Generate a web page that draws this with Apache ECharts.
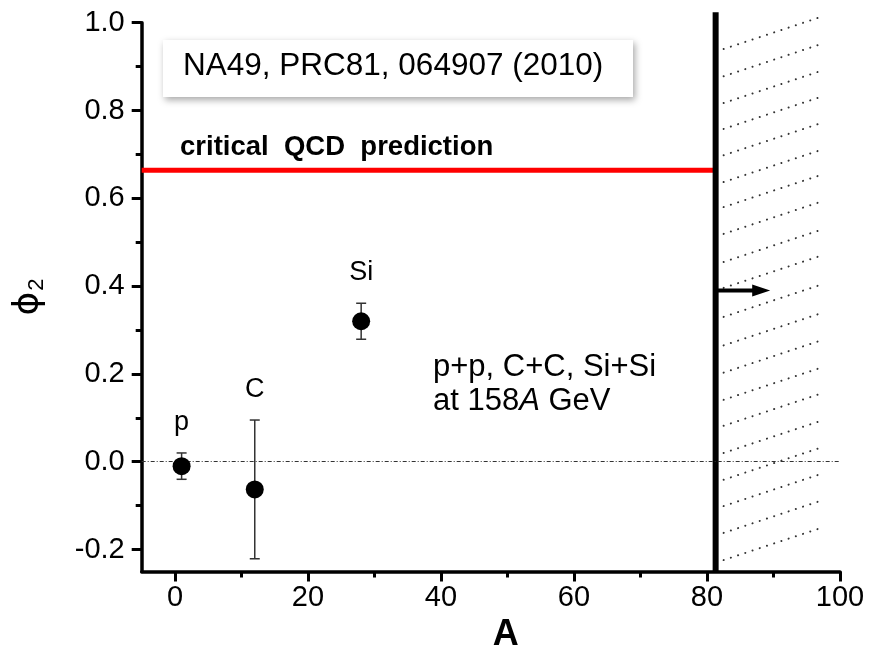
<!DOCTYPE html>
<html>
<head>
<meta charset="utf-8">
<script src="https://cdn.jsdelivr.net/npm/echarts@6/dist/echarts.min.js"></script>
<style>html,body{margin:0;padding:0;background:#fff}#c{width:875px;height:647px}</style>
</head>
<body>
<div id="c"></div>
<script>
// ---- data ----
const xRange = [-5, 100];
const yRange = [-0.25, 1.0];
const xTickValues = [0, 20, 40, 60, 80, 100];
const xMinorTickValues = [10, 30, 50, 70, 90];
const yTickValues = [-0.2, 0.0, 0.2, 0.4, 0.6, 0.8, 1.0];
const yMinorTickValues = [-0.1, 0.1, 0.3, 0.5, 0.7, 0.9];

const systems = ['p', 'C', 'Si'];
const massA = [1, 12, 28];
const phi2 = [-0.01, -0.063, 0.32];
const phi2Err = [0.03, 0.158, 0.041];

const criticalQCD = 0.664;
const boundaryA = 81.3;
const boundaryTop = 1.024;
const arrowY = 0.39;
const arrowEndA = 89.5;
const hatchStartY = [0.940, 0.878, 0.817, 0.758, 0.698, 0.637, 0.580, 0.519, 0.455, 0.396,
                     0.330, 0.265, 0.203, 0.141, 0.082, 0.020, -0.041, -0.101, -0.162, -0.224];
const hatchA = [82.5, 97.5];
const hatchRise = 0.075;

const FONT = "'Liberation Sans', Arial, Helvetica, sans-serif";

const chart = echarts.init(document.getElementById('c'), null, {renderer: 'canvas'});

const pointData = massA.map((a, i) => [a, phi2[i]]);
const errData = massA.map((a, i) => [a, phi2[i], phi2Err[i], systems[i]]);

const baseX = {
  type: 'value', min: xRange[0], max: xRange[1], position: 'bottom',
  splitLine: {show: false}
};
const baseY = {
  type: 'value', min: yRange[0], max: yRange[1], position: 'left',
  splitLine: {show: false}
};

const option = {
  animation: false,
  backgroundColor: '#fff',
  grid: {left: 141.7, right: 35, top: 22.7, bottom: 75.5, containLabel: false, outerBoundsMode: 'none'},
  xAxis: [
    Object.assign({}, baseX, {
      axisLine: {show: true, onZero: false, lineStyle: {color: '#000', width: 3.5}},
      axisTick: {show: true, inside: false, length: 10, lineStyle: {color: '#000', width: 3}, customValues: xTickValues},
      axisLabel: {show: true, margin: 12, color: '#000', fontSize: 29, fontFamily: FONT, customValues: xTickValues},
      name: 'A', nameLocation: 'middle', nameGap: 40,
      nameTextStyle: {color: '#000', fontSize: 36, fontWeight: 'bold', fontFamily: FONT, padding: [0, 0, 0, 30]}
    }),
    Object.assign({}, baseX, {
      axisLine: {show: false, onZero: false},
      axisTick: {show: true, inside: false, length: 6, lineStyle: {color: '#000', width: 3}, customValues: xMinorTickValues},
      axisLabel: {show: false}
    })
  ],
  yAxis: [
    Object.assign({}, baseY, {
      axisLine: {show: true, onZero: false, lineStyle: {color: '#000', width: 3.5}},
      axisTick: {show: true, inside: false, length: 10, lineStyle: {color: '#000', width: 3}, customValues: yTickValues},
      axisLabel: {show: true, margin: 17, color: '#000', fontSize: 29, fontFamily: FONT, customValues: yTickValues,
        formatter: v => v.toFixed(1)},
      name: '{a|ϕ}{s|2}', nameLocation: 'middle', nameGap: 94, nameRotate: 90,
      nameTextStyle: {color: '#000', fontFamily: FONT,
        rich: {a: {fontSize: 36, fontFamily: 'DejaVu Sans', color: '#000'},
               s: {fontSize: 22, fontFamily: FONT, color: '#000', padding: [16, 0, 0, 1]}}}
    }),
    Object.assign({}, baseY, {
      axisLine: {show: false, onZero: false},
      axisTick: {show: true, inside: false, length: 6, lineStyle: {color: '#000', width: 3}, customValues: yMinorTickValues},
      axisLabel: {show: false}
    })
  ],
  series: [
    // zero reference line
    {
      type: 'line', data: [], silent: true,
      markLine: {
        silent: true, symbol: ['none', 'none'], label: {show: false},
        lineStyle: {color: '#333', width: 1, type: [4, 2, 1, 2]},
        data: [{yAxis: 0}]
      }
    },
    // hatch (excluded region)
    {
      type: 'custom', clip: false, silent: true, z: 1,
      data: hatchStartY.map(y => [y]),
      renderItem: function (params, api) {
        const y0 = api.value(0);
        const p1 = api.coord([hatchA[0], y0]);
        const p2 = api.coord([hatchA[1], y0 + hatchRise]);
        return {
          type: 'line',
          shape: {x1: p1[0], y1: p1[1], x2: p2[0], y2: p2[1]},
          style: {stroke: '#333', lineWidth: 2, lineDash: [0.1, 7.5], lineCap: 'round'}
        };
      }
    },
    // critical QCD prediction line
    {
      type: 'line', silent: true, symbol: 'none', z: 3,
      data: [[xRange[0], criticalQCD], [boundaryA, criticalQCD]],
      lineStyle: {color: '#ff0000', width: 5}
    },
    // boundary vertical line
    {
      type: 'line', silent: true, symbol: 'none', clip: false, z: 4,
      data: [[boundaryA, yRange[0]], [boundaryA, boundaryTop]],
      lineStyle: {color: '#000', width: 6}
    },
    // arrow
    {
      type: 'custom', clip: false, silent: true, z: 5,
      data: [[boundaryA, arrowEndA, arrowY]],
      renderItem: function (params, api) {
        const s = api.coord([api.value(0), api.value(2)]);
        const e = api.coord([api.value(1), api.value(2)]);
        const headL = 18, headH = 6;
        return {
          type: 'group',
          children: [
            {type: 'line', shape: {x1: s[0], y1: s[1], x2: e[0] - headL + 2, y2: e[1]},
             style: {stroke: '#000', lineWidth: 4}},
            {type: 'polygon', shape: {points: [[e[0], e[1]], [e[0] - headL, e[1] - headH], [e[0] - headL, e[1] + headH]]},
             style: {fill: '#000'}}
          ]
        };
      }
    },
    // error bars + labels
    {
      type: 'custom', silent: true, z: 6,
      data: errData,
      renderItem: function (params, api) {
        const x = api.value(0), y = api.value(1), e = api.value(2);
        const top = api.coord([x, y + e]);
        const bot = api.coord([x, y - e]);
        const cap = 5;
        return {
          type: 'group',
          children: [
            {type: 'line', shape: {x1: top[0], y1: top[1], x2: bot[0], y2: bot[1]}, style: {stroke: '#333', lineWidth: 1.5}},
            {type: 'line', shape: {x1: top[0] - cap, y1: top[1], x2: top[0] + cap, y2: top[1]}, style: {stroke: '#333', lineWidth: 1.5}},
            {type: 'line', shape: {x1: bot[0] - cap, y1: bot[1], x2: bot[0] + cap, y2: bot[1]}, style: {stroke: '#333', lineWidth: 1.5}},
            {type: 'text', x: top[0], y: top[1] - 17,
             style: {text: systems[params.dataIndex], fill: '#000', fontSize: 27, fontFamily: FONT,
                     align: 'center', verticalAlign: 'bottom'}}
          ]
        };
      }
    },
    // data points
    {
      type: 'scatter', silent: true, z: 7,
      data: pointData, symbol: 'circle', symbolSize: 18,
      itemStyle: {color: '#000', opacity: 1}
    }
  ],
  graphic: [
    {
      type: 'rect', left: 163, top: 40, z: 10,
      shape: {width: 470, height: 57},
      style: {fill: '#fff', shadowColor: 'rgba(0,0,0,0.35)', shadowBlur: 7, shadowOffsetX: 2, shadowOffsetY: 3}
    },
    {
      type: 'text', left: 183, top: 50, z: 11,
      style: {text: 'NA49, PRC81, 064907 (2010)', fill: '#000', fontSize: 31.5, fontFamily: FONT}
    },
    {
      type: 'text', left: 180, top: 133, z: 11,
      style: {text: 'critical  QCD  prediction', fill: '#000', fontSize: 27.5, fontWeight: 'bold', fontFamily: FONT}
    },
    {
      type: 'text', left: 433, top: 350, z: 11,
      style: {
        text: '{n|p+p, C+C, Si+Si}\n{n|at 158}{i|A}{n| GeV}',
        fill: '#000', fontFamily: FONT, lineHeight: 34,
        rich: {
          n: {fontSize: 31, fontFamily: FONT, fill: '#000', lineHeight: 34},
          i: {fontSize: 31, fontFamily: FONT, fontStyle: 'italic', fill: '#000', lineHeight: 34}
        }
      }
    }
  ]
};

chart.setOption(option);
</script>
</body>
</html>
